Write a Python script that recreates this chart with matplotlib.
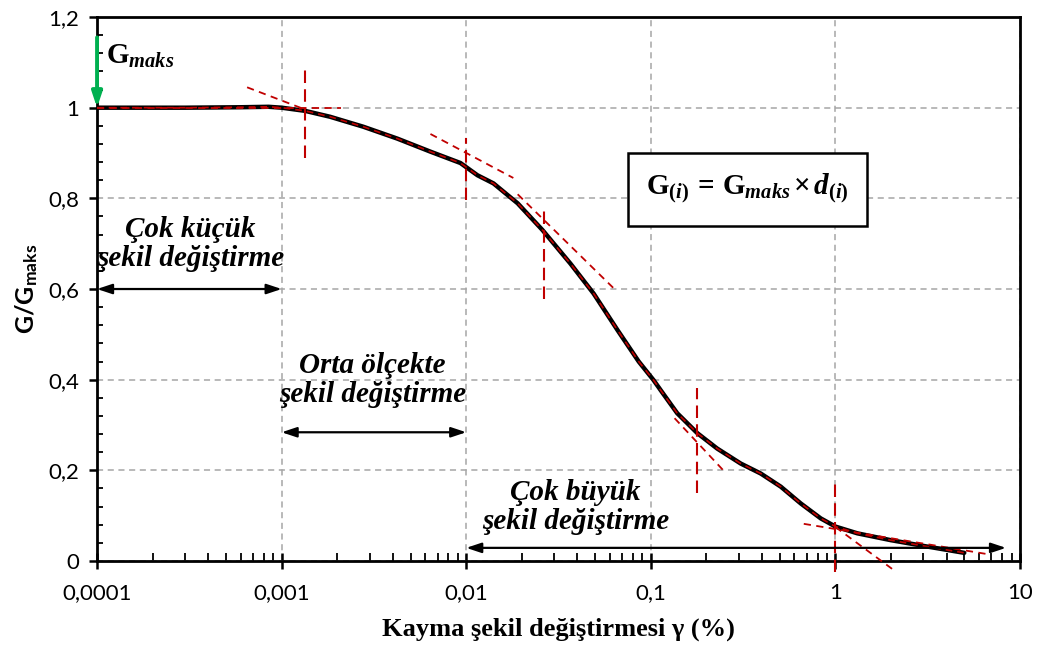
import numpy as np
import matplotlib
matplotlib.use("Agg")
import matplotlib.pyplot as plt
from matplotlib.patches import Rectangle

# G/Gmaks curve (gamma in %)
gamma = [0.0001, 0.0003, 0.0006, 0.00085, 0.001, 0.00134, 0.00183, 0.00277, 0.00422,
         0.0064, 0.0093, 0.0115, 0.01405, 0.019, 0.0259, 0.0367, 0.049, 0.0661,
         0.086, 0.1035, 0.113, 0.139, 0.1787, 0.229, 0.307, 0.394, 0.506, 0.649,
         0.833, 1.0, 1.317, 1.995, 3.03, 4.99]
ratio = [1.0, 1.0, 1.001, 1.002, 1.0, 0.993, 0.980, 0.958, 0.932,
         0.903, 0.878, 0.851, 0.833, 0.789, 0.730, 0.656, 0.590, 0.509,
         0.440, 0.399, 0.377, 0.326, 0.282, 0.248, 0.215, 0.193, 0.164, 0.127,
         0.094, 0.076, 0.061, 0.046, 0.033, 0.018]

# red dashed construction lines: (x0, x1), (y0, y1)
tangent_x = [(0.0001, 0.0021), (0.00065, 0.00134), (0.0064, 0.018), (0.019, 0.0628),
             (0.1345, 0.255), (0.674, 6.7), (1.0, 2.07)]
tangent_y = [(1.0, 1.0), (1.045, 0.996), (0.942, 0.845), (0.809, 0.602),
             (0.315, 0.194), (0.082, 0.015), (0.075, -0.02)]
marker_x = [0.00134, 0.01, 0.0263, 0.178, 1.0]
marker_y = [(0.889, 1.094), (0.796, 0.933), (0.578, 0.78), (0.150, 0.381), (-0.025, 0.174)]

xticks = [0.0001, 0.001, 0.01, 0.1, 1, 10]
xtick_labels = ["0,0001", "0,001", "0,01", "0,1", "1", "10"]
yticks = [0, 0.2, 0.4, 0.6, 0.8, 1.0, 1.2]
ytick_labels = ["0", "0,2", "0,4", "0,6", "0,8", "1", "1,2"]

# strain ranges (x0, x1, y) and their labels
ranges = [(0.0001, 0.001, 0.60), (0.001, 0.01, 0.284), (0.01, 8.4, 0.029)]
range_labels = ["Çok küçük\nşekil değiştirme", "Orta ölçekte\nşekil değiştirme",
                "Çok büyük\nşekil değiştirme"]
label_pos = [(0.00032, 0.699), (0.0031, 0.399), (0.039, 0.119)]

plt.rcParams["mathtext.fontset"] = "custom"
plt.rcParams["mathtext.rm"] = "Liberation Serif:bold"
plt.rcParams["mathtext.it"] = "Liberation Serif:bold:italic"
plt.rcParams["mathtext.sf"] = "Lato:bold"

fig = plt.figure(figsize=(10.39, 6.55), dpi=100)
ax = fig.add_axes([0.0934, 0.1435, 0.8883, 0.8305])
ax.set_xscale("log")
ax.set_xlim(0.0001, 10)
ax.set_ylim(0, 1.2)

ax.grid(True, which="major", color="#A6A6A6", linestyle=(0, (4, 3)), linewidth=1.1)
ax.set_axisbelow(True)

# main curve + red dashed overlay
ax.plot(gamma, ratio, color="black", lw=3.2, solid_joinstyle="round",
        solid_capstyle="round", zorder=3)
ax.plot(gamma, ratio, color="#C00000", lw=1.2, ls=(0, (4, 3)), zorder=4)

for (x0, x1), (y0, y1) in zip(tangent_x, tangent_y):
    ax.plot([x0, x1], [y0, y1], color="#C00000", lw=1.3, ls=(0, (4, 3)), zorder=4,
            clip_on=False)
for x, (y0, y1) in zip(marker_x, marker_y):
    ax.plot([x, x], [y0, y1], color="#C00000", lw=1.5, ls=(0, (6, 3)), zorder=4,
            clip_on=False)

# range arrows
for (x0, x1, y), txt, (tx, ty) in zip(ranges, range_labels, label_pos):
    ax.annotate("", xy=(x1, y), xytext=(x0, y),
                arrowprops=dict(arrowstyle="<|-|>,head_length=0.9,head_width=0.3",
                                color="black", lw=1.6, shrinkA=0, shrinkB=0), zorder=5)
    ax.text(tx, ty, txt, ha="center", va="center", fontsize=21, linespacing=1.12,
            family="Liberation Serif", weight="bold", style="italic")

# Gmaks arrow
ax.annotate("", xy=(0.0001, 1.0), xytext=(0.0001, 1.155),
            arrowprops=dict(arrowstyle="-|>,head_length=0.9,head_width=0.3",
                            color="#00B050", lw=2.8, shrinkA=0, shrinkB=0),
            annotation_clip=False, zorder=6)
ax.text(0.000112, 1.115, r"$\mathrm{G}_{maks}$", fontsize=21, ha="left", va="center")

# formula box
ax.add_patch(Rectangle((0.575, 0.616), 0.259, 0.134, transform=ax.transAxes,
                       fc="white", ec="black", lw=1.8, zorder=5))
ax.text(0.7045, 0.685, r"$\mathrm{G}_{(i)}\,\mathrm{=}\,\mathrm{G}_{maks}\,\mathrm{\times}\,d_{(i)}$",
        fontsize=21, ha="center", va="center", transform=ax.transAxes, zorder=6)

ax.set_xticks(xticks)
ax.set_xticklabels(xtick_labels, family="Lato", fontsize=16)
ax.set_yticks(yticks)
ax.set_yticklabels(ytick_labels, family="Lato", fontsize=16)
ax.yaxis.set_minor_locator(matplotlib.ticker.MultipleLocator(0.04))
ax.xaxis.set_minor_locator(matplotlib.ticker.LogLocator(base=10, subs=np.arange(2, 10)))
ax.xaxis.set_minor_formatter(matplotlib.ticker.NullFormatter())
ax.tick_params(axis="x", which="major", direction="inout", length=12, width=1.8, pad=10)
ax.tick_params(axis="x", which="minor", direction="in", length=5.5, width=1.3)
ax.tick_params(axis="y", which="major", direction="out", length=6, width=1.8, pad=7)
ax.tick_params(axis="y", which="minor", direction="in", length=4.5, width=1.3)
for s in ax.spines.values():
    s.set_linewidth(2)

ax.set_xlabel("Kayma şekil değiştirmesi γ (%)", family="Liberation Serif",
              weight="bold", fontsize=19, labelpad=10)
ax.set_ylabel(r"$\mathsf{G/G_{maks}}$", fontsize=18, labelpad=6)

fig.savefig("out.png", dpi=100)
